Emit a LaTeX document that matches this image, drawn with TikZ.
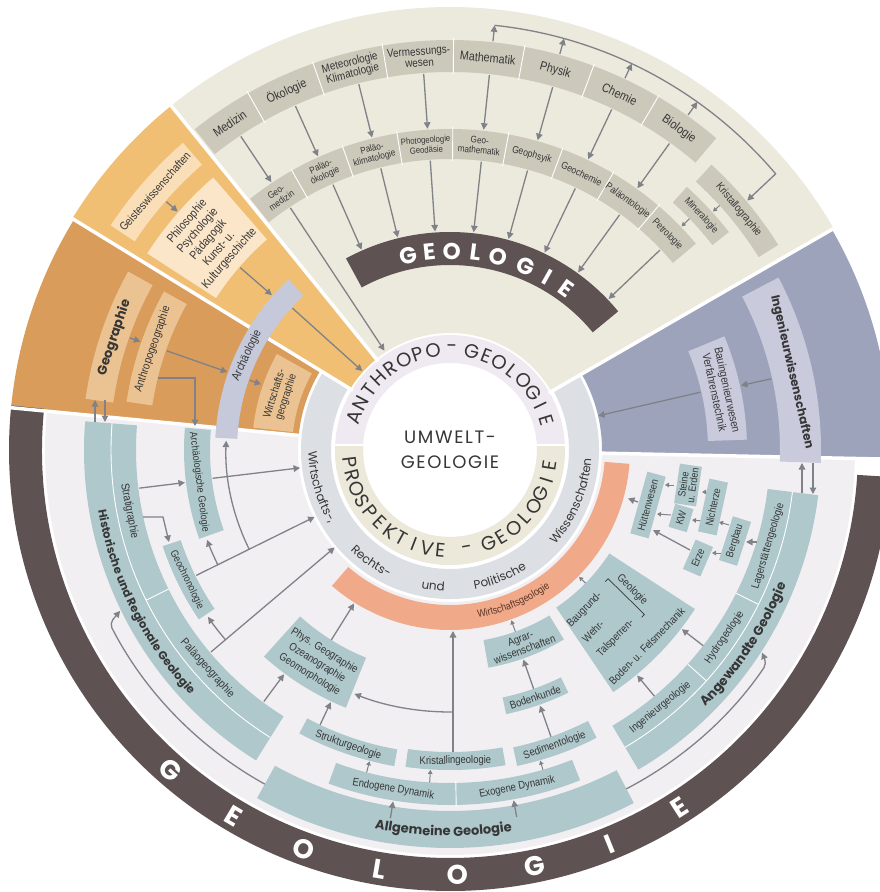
\documentclass[tikz,border=0pt]{standalone}
\usepackage{fontspec}
\newfontfamily\cnd{Liberation Sans}[FakeStretch=0.86]
\newfontfamily\geo{Poppins}
\newfontfamily\geosp{Poppins}[LetterSpace=9]
\usetikzlibrary{arrows.meta,decorations.text}
\definecolor{beigeS}{HTML}{ECE9DD}
\definecolor{beigeB}{HTML}{CCC9BB}
\definecolor{orL}{HTML}{F1BF73}
\definecolor{orLb}{HTML}{F9DEB8}
\definecolor{orLc}{HTML}{FCE6C9}
\definecolor{orD}{HTML}{D99C5B}
\definecolor{orDb}{HTML}{EBC292}
\definecolor{archc}{HTML}{C6C9DA}
\definecolor{purp}{HTML}{9EA3BC}
\definecolor{purpb}{HTML}{C9CBDD}
\definecolor{lowbg}{HTML}{F2EFF3}
\definecolor{tealb}{HTML}{AEC8CC}
\definecolor{darkr}{HTML}{5E5253}
\definecolor{greyr}{HTML}{DCDFE4}
\definecolor{lav}{HTML}{EFEAF1}
\definecolor{pbeige}{HTML}{ECE8DA}
\definecolor{salm}{HTML}{F0AA8A}
\definecolor{arrc}{HTML}{7F8286}
\definecolor{txt}{HTML}{363636}
\definecolor{salmtxt}{HTML}{5A3324}
\newcommand\fs[2]{\fontsize{#1}{#2}\selectfont}
\newcommand\sect[5]{\fill[#1] (#2:#4) arc[start angle=#2,end angle=#3,radius=#4] -- (#3:#5) arc[start angle=#3,end angle=#2,radius=#5] -- cycle;}
\newcommand\rarr[5][arr]{\coordinate (#2s) at (#3:#4);\coordinate (#2e) at (#3:#5);\draw[#1] (#2s) -- (#2e);}
\newcommand\carr[4][arr]{\coordinate (#2s) at (#3);\coordinate (#2e) at (#4);\draw[#1] (#2s) -- (#2e);}
\newcommand\arcword[7]{\foreach \ch [count=\i from 0] in {#7}{\pgfmathsetmacro\myang{#3+\i*(#4)}\node[#1,rotate=\myang#6] (#2\i) at (\myang:#5) {\ch};}}
\newcommand\botext[5]{\path[decorate,decoration={text along path,text align=center,text={|#1|#5}}] (#2:#4) arc[start angle=#2,end angle=#3,radius=#4];}
\begin{document}
\begin{tikzpicture}[x=1pt,y=1pt,
 arr/.style={draw=arrc,line width=1.3pt,-{Triangle[length=6.5pt,width=6.5pt]}},
 sarr/.style={draw=arrc,line width=1pt,-{Triangle[length=4pt,width=4.5pt]}},
 sepl/.style={draw=white,line width=3.5pt},
 thinw/.style={draw=white,line width=0.9pt},
 lb/.style={font=\cnd\fs{11}{12},text=txt,align=center,inner sep=0pt},
 sbox/.style={lb,font=\cnd\fs{10.5}{10},fill=tealb,inner xsep=2.5pt,inner ysep=2.5pt,minimum height=19pt},
 anth/.style={font=\geo\fs{19.5}{19.5},text=txt,inner sep=0pt},
 og/.style={font=\geo\bfseries\fs{27}{27},text=white,inner sep=0pt},
 tg/.style={font=\geo\bfseries\fs{23}{23},text=white,inner sep=0pt}]
\useasboundingbox (-450,-442) rectangle (430,450);
\clip (-450,-442) rectangle (430,450);
% ---------- sectors and rings
\sect{beigeS}{30}{129}{117}{443}
\sect{orL}{129}{148.5}{117}{443}
\sect{orD}{148.5}{174.5}{152}{441}
\sect{purp}{-1.2}{30}{152}{441}
\sect{lowbg}{174.5}{358.8}{152}{405}
\sect{darkr}{174.2}{356.5}{408}{441}
\sect{greyr}{148.5}{390}{119}{149}
\sect{lav}{0}{360}{87}{115}
\begin{scope}
\clip (-120,5) rectangle (120,-120);
\sect{pbeige}{0}{360}{87}{115}
\end{scope}
\draw[white,line width=2.5pt] (-117,5) -- (-85,5) (85,5) -- (117,5);
\sect{salm}{229}{355.6}{155}{180}
\draw[sepl] (30:114) -- (30:446) (129:114) -- (129:446) (148.5:114) -- (148.5:446)
 (174.5:150) -- (174.5:446) (-1.2:150) -- (-1.2:446);
% ---------- top sector boxes
\sect{beigeB}{49.5}{128.5}{378}{410}
\foreach \a in {119.5,109.5,99.5,89.5,79.5,69.5,59.5} \draw[thinw] (\a:376) -- (\a:412);
\sect{beigeB}{40}{128.5}{291}{321}
\foreach \a in {119.5,109.5,99.5,89.5,79.5,69.5,59.5,49.5} \draw[thinw] (\a:289) -- (\a:323);
\sect{beigeB}{38}{48}{333}{354}
\sect{beigeB}{32}{47.5}{364}{387}
\sect{darkr}{39.5}{118.5}{185}{218}
% ---------- orange sectors
\sect{orLb}{131}{146.5}{378}{407}
\sect{orLc}{131}{147}{279}{361}
\sect{orDb}{151}{172}{340}{368}
\sect{orDb}{151}{171.5}{301}{327}
\sect{orDb}{151}{173.5}{158}{198}
\sect{archc}{133.5}{177}{213}{235}
% ---------- purple sector
\sect{purpb}{-2}{27.7}{330}{371}
\sect{purpb}{2}{22.5}{258}{297}
% ---------- lower region boxes
\sect{tealb}{175.5}{238}{314}{366}
\draw[thinw] (175.5:339) arc[start angle=175.5,end angle=238,radius=339];
\draw[thinw] (206.3:314) -- (206.3:339);
\sect{tealb}{175.2}{199.5}{240}{266}
\sect{tealb}{198.5}{214}{284}{303}
\sect{tealb}{228}{248}{224}{278}
\sect{tealb}{242}{260}{304}{321}
\sect{tealb}{262}{280}{302}{320}
\sect{tealb}{282}{297}{304}{323}
\sect{tealb}{282}{296}{253}{270}
\sect{tealb}{280}{301}{193}{221}
\sect{tealb}{250}{291.5}{333}{355}
\draw[thinw] (271:331) -- (271:357);
\sect{tealb}{241}{297.5}{361}{398}
\sect{tealb}{300.5}{353}{320}{371}
\draw[thinw] (300.5:345) arc[start angle=300.5,end angle=353,radius=345];
\draw[thinw] (318:320) -- (318:345) (333.4:320) -- (333.4:345);
\sect{tealb}{304}{327}{190}{292}
% ---------- arrows top
\rarr{t1}{123.7}{377}{322}\rarr{t2}{114.2}{377}{322}\rarr{t3}{104}{377}{322}\rarr{t4}{94}{377}{322}
\rarr{t5}{84}{377}{322}\rarr{t6}{74.2}{377}{322}\rarr{t7}{64.6}{377}{322}\rarr{t8}{54.4}{377}{322}
\rarr{g1}{123.4}{290}{119}\rarr{g2}{113.8}{290}{219}\rarr{g3}{103.8}{290}{219}\rarr{g4}{93.9}{290}{219}
\rarr{g5}{83.8}{290}{219}\rarr{g6}{74.5}{290}{219}\rarr{g7}{64.4}{290}{219}\rarr{g8}{54.2}{290}{219}
\rarr{g9}{43.6}{290}{219}
\rarr{u1}{84}{411}{427}\rarr{u2}{74.5}{411}{427}\rarr{u3}{64.8}{411}{427}\rarr{u4}{54.6}{411}{427}
\coordinate (tls) at (84:427);\coordinate (tle) at (40:388);
\draw[arr] (tls) arc[start angle=84,end angle=40.3,radius=427] -- (tle);
\rarr[sarr]{km}{42.2}{364}{355}\rarr[sarr]{mp}{44}{333}{322}
% orange arrows
\rarr{o1}{138.8}{377}{362}\rarr{o2}{139}{278}{236}\rarr{o3}{138}{212}{118}
\rarr{o4}{160.7}{339}{328}\rarr{o5}{160.7}{300}{236}\rarr{o6}{160.8}{212}{200}
\coordinate (o7s) at (-292,72);\coordinate (o7e) at (-255,24);
\draw[arr] (o7s) -- (-255,72) -- (o7e);
\carr{hg1}{-355,28}{-355,50}\carr{hg2}{-345,50}{-345,28}
\carr{ai1}{352,-43}{352,-13}\carr{ai2}{363,-13}{363,-44}
% purple arrows
\rarr{p1}{12.5}{329}{298}\rarr{p2}{13}{257}{152}
% lower left arrows
\rarr{l1}{187}{313}{267}\rarr{l2}{186.8}{239}{151}
\coordinate (l3s) at (-307,-67);\coordinate (l3e) at (-281,-92);
\draw[arr] (l3s) -- (-287,-67) -- (l3e);
\rarr{l4}{206.3}{283}{151}
\coordinate (l5s) at (206.3:259);\coordinate (l5e) at (200.3:259);
\draw[arr] (l5s) arc[start angle=206.3,end angle=200.3,radius=259];
\coordinate (l6s) at (206.3:224);\coordinate (l6e) at (177.6:224);
\draw[arr] (l6s) arc[start angle=206.3,end angle=177.6,radius=224];
\rarr{l7}{220.2}{313}{151}
\coordinate (l8s) at (220.2:294);\coordinate (l8e) at (214.6:294);
\draw[arr] (l8s) arc[start angle=220.2,end angle=214.6,radius=294];
\rarr{l9}{233.5}{313}{279}
\coordinate (ahs) at (241:382);\coordinate (ahe) at (206:367);
\draw[arr,rounded corners=5pt] (ahs) arc[start angle=241,end angle=207,radius=382] -- (ahe);
\coordinate (aas) at (297.5:382);\coordinate (aae) at (327:372);
\draw[arr,rounded corners=5pt] (aas) arc[start angle=297.5,end angle=326,radius=382] -- (aae);
% lower middle arrows
\rarr{m1}{260.8}{373}{356}\rarr{m2}{280.3}{373}{356}
\rarr[sarr]{m3}{255.5}{333}{321.5}\rarr[sarr]{m4}{266.5}{333}{320.5}\rarr[sarr]{m5}{286.2}{333}{323.5}
\rarr{m6}{244.7}{304}{279}
\carr{m7}{3,-302}{3,-181}
\coordinate (m8s) at (270.66:262);\coordinate (m8e) at (248.6:262);
\draw[arr] (m8s) arc[start angle=270.66,end angle=248.6,radius=262];
\rarr{m9}{289.4}{304}{271}\rarr{m10}{289.3}{253}{222}\rarr[sarr]{m11}{289.8}{193}{181}
\rarr{m12}{238}{224}{181}
% lower right arrows
\rarr{r1}{309.7}{320}{293}\rarr{r2}{322.3}{320}{293}\rarr[sarr]{r3}{315.5}{190}{181}
\carr{c1}{307,-92}{296,-92}
\carr[sarr]{c2}{279,-75}{269,-72}
\carr[sarr]{c3}{271,-103}{262,-103}
\carr[sarr]{c4}{252,-71}{242,-70}
\carr[sarr]{c5}{258,-42}{252,-42}
\carr[sarr]{c6}{224,-35}{215,-35}
\carr[sarr]{c7}{221,-65}{207,-64}
\carr{c8}{240,-100}{203,-80}
\carr{c9}{188,-52}{178,-48.5}
% ---------- small boxes
\node[sbox,rotate=74.5,minimum width=64pt] (huetten) at (198,-55) {Hüttenwesen};
\node[sbox,rotate=81.6,minimum width=38pt,font=\cnd\fs{10.5}{9.5}] (steine) at (238,-35) {Steine\\u. Erden};
\node[sbox,rotate=73.6,minimum width=24pt] (kw) at (231,-68) {KW};
\node[sbox,rotate=77.8,minimum width=54pt] (nichterze) at (263,-57) {Nichterze};
\node[sbox,rotate=72.3,minimum width=46pt] (bergbau) at (285,-91) {Bergbau};
\node[sbox,rotate=66.5,minimum width=32pt] (erze) at (248,-108) {Erze};
% ---------- top labels
\node[lb,font=\cnd\fs{12.5}{12.5},rotate=34] (medizin) at (124:394) {Medizin};
\node[lb,font=\cnd\fs{12.5}{12.5},rotate=24.5] (oekologie) at (114.5:394) {Ökologie};
\node[lb,font=\cnd\fs{11.5}{11.5},rotate=14.5] (meteo) at (104.5:394) {Meteorologie\\Klimatologie};
\node[lb,font=\cnd\fs{11.5}{11.5},rotate=4.5] (verm) at (94.5:394) {Vermessungs-\\wesen};
\node[lb,font=\cnd\fs{12.5}{12.5},rotate=-5.5] (mathe) at (84.5:394) {Mathematik};
\node[lb,font=\cnd\fs{12.5}{12.5},rotate=-15.5] (physik) at (74.5:394) {Physik};
\node[lb,font=\cnd\fs{12.5}{12.5},rotate=-25.5] (chemie) at (64.5:394) {Chemie};
\node[lb,font=\cnd\fs{12.5}{12.5},rotate=-35.5] (biologie) at (54.5:394) {Biologie};
\node[lb,font=\cnd\fs{9.5}{10},rotate=34] (geomed) at (124:306) {Geo-\\medizin};
\node[lb,font=\cnd\fs{9.5}{10},rotate=24.5] (palok) at (114.5:306) {Paläo-\\ökologie};
\node[lb,font=\cnd\fs{9.5}{10},rotate=14.5] (palkl) at (104.5:306) {Paläo-\\klimatologie};
\node[lb,font=\cnd\fs{9}{10},rotate=4.5] (photo) at (94.5:306) {Photogeologie\\Geodäsie};
\node[lb,font=\cnd\fs{9.5}{10},rotate=-5.5] (geomath) at (84.5:306) {Geo-\\mathematik};
\node[lb,font=\cnd\fs{10}{10},rotate=-15.5] (geophys) at (74.5:306) {Geophsyik};
\node[lb,font=\cnd\fs{10}{10},rotate=-25.5] (geochem) at (64.5:306) {Geochemie};
\node[lb,font=\cnd\fs{10}{10},rotate=-35.5] (palaeont) at (54.5:306) {Paläontologie};
\node[lb,font=\cnd\fs{10}{10},rotate=-45.25] (petro) at (44.75:306) {Petrologie};
\node[lb,font=\cnd\fs{10}{10},rotate=-47] (mineral) at (43:343.5) {Mineralogie};
\node[lb,font=\cnd\fs{11}{11},rotate=-50.25] (kristallo) at (39.75:375.5) {Kristallographie};
\foreach \ch/\a [count=\i] in {G/102.2,E/96,O/89.5,L/82.7,O/75.9,G/67.5,I/60.6,E/54.2}
 \node[tg,rotate=\a-90] (tg\i) at (\a:199) {\ch};
% ---------- orange labels
\node[lb,font=\cnd\fs{11.5}{12},rotate=48.75] (geistes) at (138.75:392.5) {Geisteswissenschaften};
\node[lb,font=\cnd\fs{12}{14},rotate=49] (philo) at (139:320) {Philosophie\\Psychologie\\Pädagogik\\Kunst- u.\\Kulturgeschichte};
\node[lb,font=\cnd\fs{12}{12},rotate=65] (archaeo) at (155:224) {Archäologie};
\node[lb,font=\geo\bfseries\fs{13}{13},rotate=71.5] (geogr) at (161.5:354) {Geographie};
\node[lb,font=\cnd\fs{11.5}{12},rotate=71.25] (anthrog) at (161.25:314) {Anthropogeographie};
\node[lb,font=\cnd\fs{11}{12},rotate=72.25] (wigeo) at (162.25:178) {Wirtschafts-\\geographie};
% ---------- purple labels
\node[lb,font=\geo\bfseries\fs{12}{12},rotate=-77.15] (ingw) at (12.85:350.5) {Ingenieurwissenschaften};
\node[lb,font=\cnd\fs{11.5}{13},rotate=-77.75] (bauing) at (12.25:277.5) {Bauingenieurwesen\\Verfahrenstechnik};
% ---------- lower labels
\node[lb,font=\cnd\fs{11.5}{12},rotate=280.8] (strat) at (190.8:326.5) {Stratigraphie};
\node[lb,font=\cnd\fs{11.5}{12},rotate=312] (palgeo) at (222:326.5) {Paläogeographie};
\node[lb,font=\cnd\fs{10.5}{12},rotate=277.3] (archgeo) at (187.3:253) {Archäologische Geologie};
\node[lb,font=\cnd\fs{10.5}{12},rotate=296.25] (geochron) at (206.25:293.5) {Geochronologie};
\node[lb,font=\cnd\fs{11}{14},rotate=328] (physgeo) at (238:251) {Phys. Geographie\\Ozeanographie\\Geomorphologie};
\node[lb,rotate=341] (struktur) at (251:312.5) {Strukturgeologie};
\node[lb,rotate=1] (kristallin) at (271:311) {Kristallingeologie};
\node[lb,rotate=19.5] (sediment) at (289.5:313.5) {Sedimentologie};
\node[lb,rotate=19] (bodenk) at (289:261.5) {Bodenkunde};
\node[lb,rotate=20.5] (agrar) at (290.5:207) {Agrar-\\wissenschaften};
\node[lb,rotate=350.5] (endo) at (260.5:344) {Endogene Dynamik};
\node[lb,rotate=11.25] (exo) at (281.25:344) {Exogene Dynamik};
\node[lb,rotate=73.2] (lager) at (343.2:332.5) {Lagerstättengeologie};
\node[lb,rotate=55.7] (hydro) at (325.7:332.5) {Hydrogeologie};
\node[lb,rotate=39.25] (ingeo) at (309.25:332.5) {Ingenieurgeologie};
\begin{scope}[shift={(315.5:241)},rotate=45.5,transform shape]
\node[lb,anchor=west] (baugrund) at (-42,33) {Baugrund-};
\node[lb,anchor=west] (wehr) at (-42,12) {Wehr-};
\node[lb,anchor=west] (talsp) at (-42,-9) {Talsperren-};
\draw[txt,line width=0.7pt] (15,38) -- (19,38) -- (19,-13) -- (15,-13);
\node[lb,rotate=-90] (geolbr) at (28,13) {Geologie};
\node[lb] (bodenfels) at (-2,-37) {Boden- u. Felsmechanik};
\end{scope}
% ---------- arc texts
\botext{\geo\bfseries\fs{11.5}{12}\color{txt}}{177}{236}{357}{Historische und Regionale Geologie}
\botext{\geo\bfseries\fs{13}{13}\color{txt}}{244}{294}{386}{Allgemeine Geologie}
\botext{\geo\bfseries\fs{13}{13}\color{txt}}{302}{351}{362}{Angewandte Geologie}
\botext{\cnd\fs{10.5}{11}\color{salmtxt}}{262}{323.6}{170}{Wirtschaftsgeologie}
\botext{\geosp\fs{12}{12}\color{txt}}{176}{216}{141.5}{Wirtschafts-,}
\botext{\geosp\fs{12}{12}\color{txt}}{220}{249.4}{141.5}{Rechts-}
\botext{\geosp\fs{12}{12}\color{txt}}{253}{273}{141.5}{und}
\botext{\geosp\fs{12}{12}\color{txt}}{274}{309}{141.5}{Politische}
\botext{\geosp\fs{12}{12}\color{txt}}{308}{366.6}{141.5}{Wissenschaften}
% ---------- inner rings
\arcword{anth}{an}{161}{-8.77}{101}{-90}{A,N,T,H,R,O,P,O}
\node[anth,rotate=-1.1] (anhy) at (88.9:101) {-};
\arcword{anth}{ag}{77.6}{-8.6}{101}{-90}{G,E,O,L,O,G,I,E}
\arcword{anth}{pp}{187}{7.75}{101}{+90}{P,R,O,S,P,E,K,T,I,V,E}
\node[anth,rotate=9.7] (pphy) at (279.7:101) {-};
\arcword{anth}{pg}{292.4}{8.4}{101}{+90}{G,E,O,L,O,G,I,E}
\node[font=\geosp\fs{18}{25.5},text=txt,align=center] (umwelt) at (0,0) {UMWELT-\\GEOLOGIE};
\arcword{og}{og}{228.8}{10.55}{425}{+90}{G,E,O,L,O,G,I,E}
\end{tikzpicture}
\end{document}
